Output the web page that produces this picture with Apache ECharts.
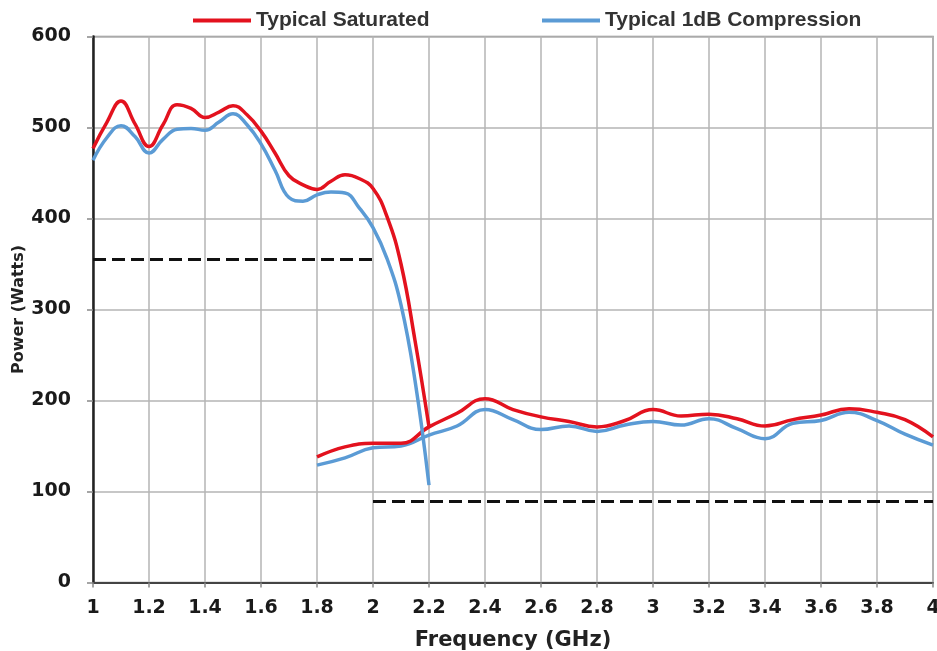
<!DOCTYPE html>
<html>
<head>
<meta charset="utf-8">
<script src="https://cdn.jsdelivr.net/npm/echarts@6/dist/echarts.min.js"></script>
<style>
html,body{margin:0;padding:0;background:#fff;}
#chart{width:937px;height:651px;}
</style>
</head>
<body>
<div id="chart"></div>
<script>
// Low band (1.0 - 2.2 GHz)
const lowFreq = [1.00,1.05,1.10,1.15,1.20,1.25,1.30,1.35,1.40,1.45,1.50,1.55,1.60,1.65,1.70,1.75,1.80,1.85,1.90,1.95,2.00,2.05,2.10,2.15,2.20];
const satLow  = [477,506,529,504,479,503,525,521,511,517,524,514,496,472,447,437,432,441,448,444,433,402,350,266,171];
const compLow = [464,489,502,490,472,487,498,499,497,506,515,503,482,453,423,419,426,429,428,412,390,356,305,222,107];
// High band (1.8 - 4.0 GHz)
const highFreq = [1.8,1.9,2.0,2.1,2.2,2.3,2.4,2.5,2.6,2.7,2.8,2.9,3.0,3.1,3.2,3.3,3.4,3.5,3.6,3.7,3.8,3.9,4.0];
const satHigh  = [138,149,153,153,171,186,202,190,182,177,171,178,190,183,185,180,172,179,184,191,187,179,160];
const compHigh = [129,137,148,150,162,172,190,179,168,172,166,173,177,173,180,169,158,175,178,187,178,163,151];
// Dashed spec lines
const specLowFreq = [1, 2];
const specLowVal = [355, 355];
const specHighFreq = [2, 4];
const specHighVal = [89, 89];
// Axis ticks
const xTicks = {min: 1, max: 4, step: 0.2};
const yTicks = {min: 0, max: 600, step: 100};

const pairs = (xs, ys) => xs.map((x, i) => [x, ys[i]]);
const FONT = 'Liberation Sans, Arial, sans-serif';
const WIDE = 'DejaVu Sans, sans-serif';
const RED = '#e3121e';
const BLUE = '#5b9bd5';

const chart = echarts.init(document.getElementById('chart'));
const lineBase = {type: 'line', symbol: 'none', showSymbol: false, smooth: 0.45, animation: false};

chart.setOption({
  animation: false,
  backgroundColor: '#fff',
  grid: {left: 93, right: 4, top: 36.5, bottom: 68.5, show: true, borderColor: '#8a8a8a', borderWidth: 1.5,
         containLabel: false, outerBoundsMode: 'none'},
  legend: [
    {data: ['Typical Saturated'], left: 193, top: 10, padding: 0, icon: 'rect', itemWidth: 58, itemHeight: 4,
     textStyle: {fontFamily: FONT, fontWeight: 'bold', fontSize: 21, color: '#333'}},
    {data: ['Typical 1dB Compression'], left: 542, top: 10, padding: 0, icon: 'rect', itemWidth: 58, itemHeight: 4,
     textStyle: {fontFamily: FONT, fontWeight: 'bold', fontSize: 21, color: '#333'}}
  ],
  xAxis: {
    type: 'value', min: xTicks.min, max: xTicks.max, interval: xTicks.step,
    name: 'Frequency (GHz)', nameLocation: 'middle', nameGap: 48,
    nameTextStyle: {fontFamily: WIDE, fontWeight: 'bold', fontSize: 21, color: '#222'},
    axisLine: {show: true, onZero: false, lineStyle: {color: '#444', width: 2}},
    axisTick: {show: true, length: 5, lineStyle: {color: '#888', width: 1.5}},
    axisLabel: {margin: 16, fontFamily: WIDE, fontWeight: 'bold', fontSize: 19, color: '#1a1a1a',
      formatter: v => String(parseFloat(v.toFixed(1)))},
    splitLine: {show: true, lineStyle: {color: '#b4b4b4', width: 1.5}}
  },
  yAxis: {
    type: 'value', min: yTicks.min, max: yTicks.max, interval: yTicks.step,
    name: 'Power (Watts)', nameLocation: 'middle', nameGap: 66, nameRotate: 90, nameMoveOverlap: false,
    nameTextStyle: {fontFamily: WIDE, fontWeight: 'bold', fontSize: 16, color: '#222'},
    axisLine: {show: true, lineStyle: {color: '#222', width: 2.5}},
    axisTick: {show: true, length: 6, lineStyle: {color: '#888', width: 1.5}},
    axisLabel: {margin: 22, fontFamily: WIDE, fontWeight: 'bold', fontSize: 19, color: '#1a1a1a'},
    splitLine: {show: true, lineStyle: {color: '#b4b4b4', width: 1.5}}
  },
  series: [
    Object.assign({}, lineBase, {name: 'Typical 1dB Compression', data: pairs(highFreq, compHigh), lineStyle: {color: BLUE, width: 3.5}, itemStyle: {color: BLUE}}),
    Object.assign({}, lineBase, {name: 'Typical Saturated', data: pairs(highFreq, satHigh), lineStyle: {color: RED, width: 3.5}, itemStyle: {color: RED}}),
    Object.assign({}, lineBase, {name: 'Typical Saturated', data: pairs(lowFreq, satLow), lineStyle: {color: RED, width: 3.5}, itemStyle: {color: RED}}),
    Object.assign({}, lineBase, {name: 'Typical 1dB Compression', data: pairs(lowFreq, compLow), lineStyle: {color: BLUE, width: 3.5}, itemStyle: {color: BLUE}}),
    {type: 'line', name: 'specLow', symbol: 'none', data: pairs(specLowFreq, specLowVal), lineStyle: {color: '#111', width: 3, type: [13, 6]}, itemStyle: {color: '#111'}},
    {type: 'line', name: 'specHigh', symbol: 'none', data: pairs(specHighFreq, specHighVal), lineStyle: {color: '#111', width: 3, type: [13, 6]}, itemStyle: {color: '#111'}}
  ]
});
</script>
</body>
</html>
